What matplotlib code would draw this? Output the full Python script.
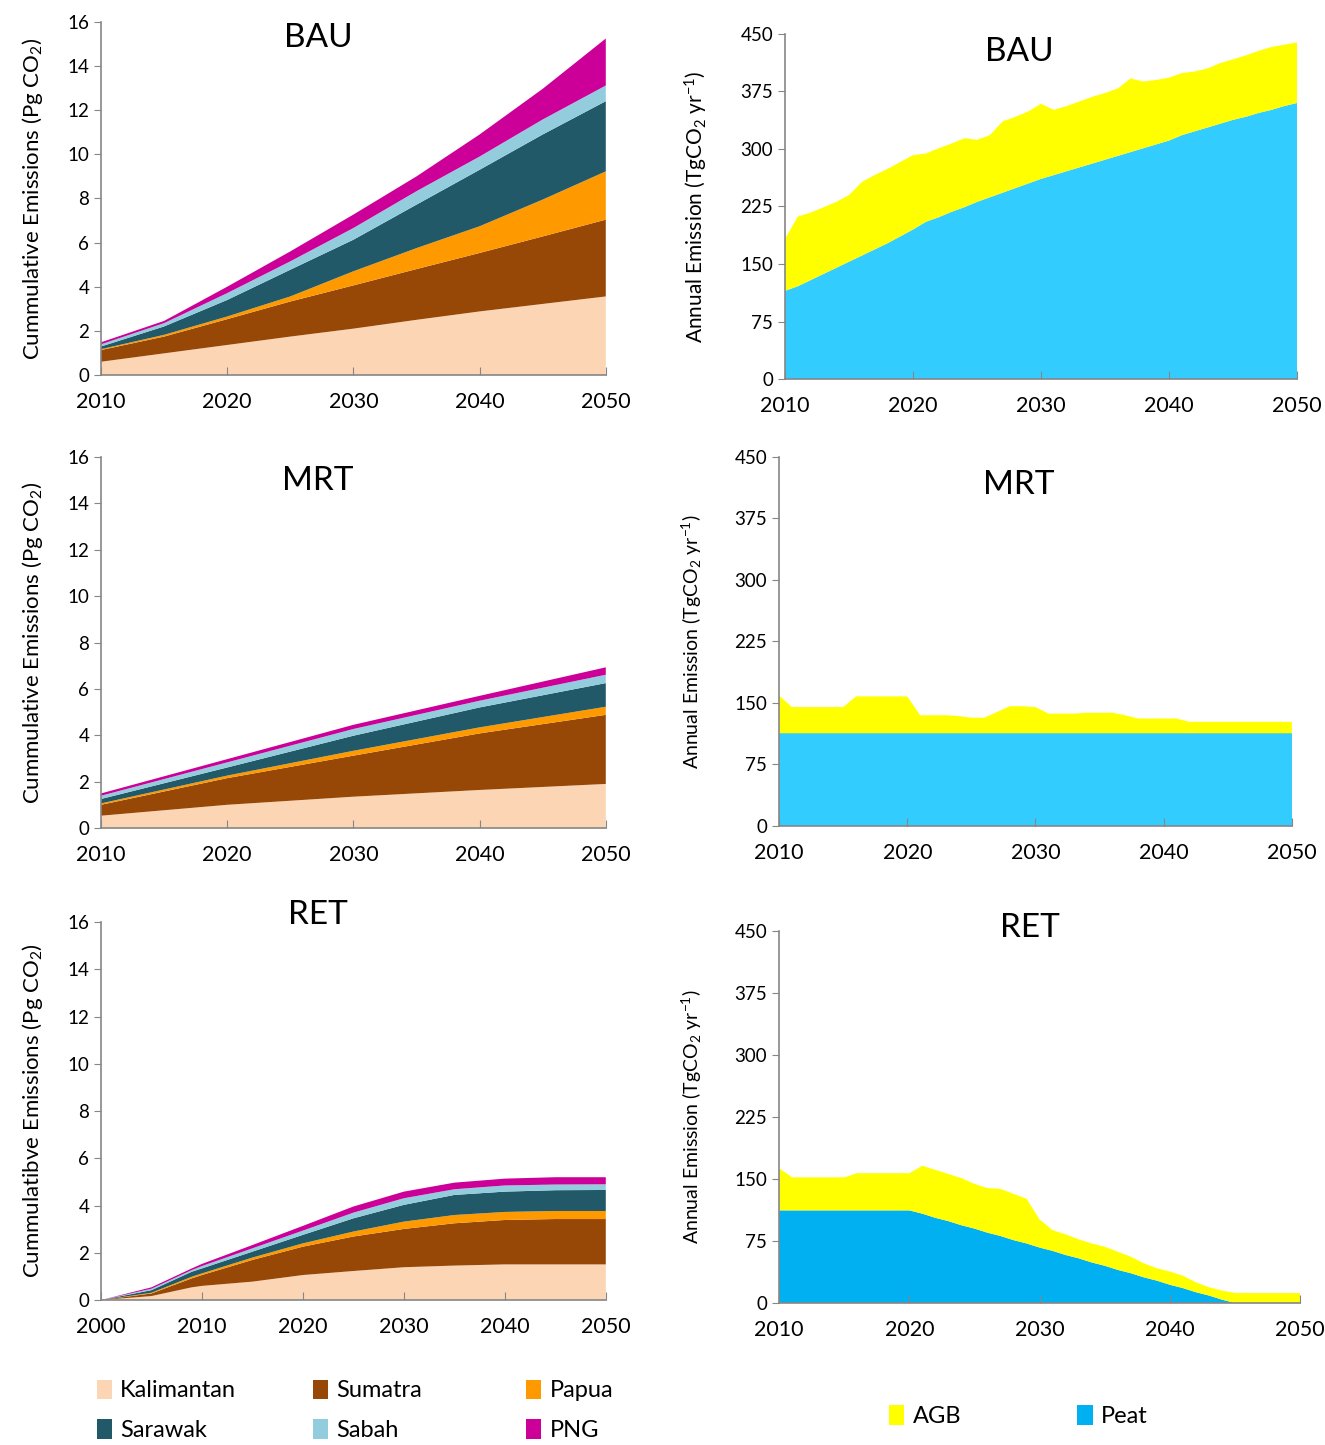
import numpy as np
import matplotlib
matplotlib.use("Agg")
import matplotlib.pyplot as plt
from matplotlib.patches import Patch

plt.rcParams['font.family'] = ['Lato', 'DejaVu Sans']
plt.rcParams['mathtext.fontset'] = 'custom'
plt.rcParams['mathtext.rm'] = 'Lato'
plt.rcParams['mathtext.it'] = 'Lato:italic'

regions = ["Kalimantan", "Sumatra", "Papua", "Sarawak", "Sabah", "PNG"]
region_colors = ["#FCD5B5", "#974806", "#FF9900", "#215968", "#93CDDD", "#CC0099"]

# cumulative emissions by region (Pg CO2), stacked
bau_years = [2010, 2015, 2020, 2025, 2030, 2035, 2040, 2045, 2050]
bau_kal = [0.60, 0.98, 1.36, 1.74, 2.10, 2.50, 2.88, 3.22, 3.56]
bau_sum = [0.53, 0.76, 1.17, 1.59, 1.96, 2.30, 2.65, 3.06, 3.48]
bau_pap = [0.04, 0.08, 0.12, 0.23, 0.64, 0.95, 1.21, 1.67, 2.19]
bau_sar = [0.12, 0.38, 0.75, 1.21, 1.43, 1.97, 2.56, 2.95, 3.18]
bau_sab = [0.10, 0.15, 0.31, 0.38, 0.53, 0.61, 0.60, 0.68, 0.71]
bau_png = [0.09, 0.10, 0.29, 0.45, 0.61, 0.67, 1.00, 1.39, 2.13]

mrt_years = [2010, 2020, 2030, 2040, 2050]
mrt_kal = [0.53, 1.00, 1.35, 1.64, 1.90]
mrt_sum = [0.47, 1.15, 1.77, 2.44, 2.98]
mrt_pap = [0.06, 0.11, 0.21, 0.26, 0.35]
mrt_sar = [0.19, 0.35, 0.65, 0.86, 1.02]
mrt_sab = [0.14, 0.22, 0.29, 0.29, 0.36]
mrt_png = [0.10, 0.14, 0.18, 0.21, 0.32]

ret_years = [2000, 2005, 2009, 2010, 2015, 2020, 2025, 2030, 2035, 2040, 2045, 2050]
ret_kal = [0, 0.17, 0.54, 0.60, 0.78, 1.06, 1.23, 1.39, 1.46, 1.51, 1.51, 1.51]
ret_sum = [0, 0.11, 0.38, 0.46, 0.92, 1.20, 1.46, 1.62, 1.79, 1.88, 1.92, 1.92]
ret_pap = [0, 0.03, 0.07, 0.07, 0.10, 0.14, 0.21, 0.31, 0.35, 0.34, 0.34, 0.34]
ret_sar = [0, 0.11, 0.21, 0.21, 0.25, 0.36, 0.56, 0.71, 0.85, 0.86, 0.88, 0.89]
ret_sab = [0, 0.06, 0.07, 0.10, 0.14, 0.18, 0.24, 0.28, 0.24, 0.26, 0.24, 0.24]
ret_png = [0, 0.06, 0.07, 0.09, 0.14, 0.20, 0.26, 0.28, 0.28, 0.29, 0.31, 0.30]

# annual emissions (TgCO2/yr), peat + AGB, yearly 2010-2050
ann_years = list(range(2010, 2051))
bau_peat = [115, 121, 129, 137, 145, 153, 161, 169, 177, 186, 195, 205, 211, 218, 224, 231,
            237, 243, 249, 255, 261, 266, 271, 276, 281, 286, 291, 296, 301, 306, 311, 318,
            323, 328, 333, 338, 342, 347, 351, 356, 360]
bau_agb = [68, 91, 88, 87, 86, 87, 96, 97, 97, 97, 97, 89, 90, 89, 90, 81, 81, 93, 93, 94,
           98, 85, 85, 86, 87, 87, 88, 96, 87, 84, 82, 81, 78, 77, 79, 79, 80, 81, 82, 80, 79]
mrt_peat = [113] * 41
mrt_agb = [46, 32, 32, 32, 32, 32, 45, 45, 45, 45, 45, 22, 22, 22, 21, 19, 19, 26, 33, 33,
           32, 24, 24, 24, 25, 25, 25, 22, 18, 18, 18, 18, 14, 14, 14, 14, 14, 14, 14, 14, 14]
ret_peat = [112] * 11 + [108, 103, 99, 94, 90, 85, 81, 76, 72, 67, 63, 58, 54, 49, 45, 40,
                         36, 31, 27, 22, 18, 13, 9, 4] + [0] * 6
ret_agb = [51, 40, 40, 40, 40, 40, 45, 45, 45, 45, 45, 58, 58, 57, 57, 54, 54, 57, 56, 54,
           34, 25, 25, 23, 23, 23, 22, 20, 17, 15, 16, 15, 12, 10, 11, 12, 12, 12, 12, 12, 12]

fig = plt.figure(figsize=(13.25, 14.45), dpi=100)
grey = "#868686"


def style(ax):
    for s in ["top", "right"]:
        ax.spines[s].set_visible(False)
    for s in ["left", "bottom"]:
        ax.spines[s].set_color(grey)
        ax.spines[s].set_linewidth(1.2)
    ax.tick_params(axis="x", direction="in", length=6, color=grey, labelsize=15.5, pad=12)
    ax.tick_params(axis="y", direction="out", length=5, color=grey, labelsize=13.5)


# left column: cumulative by region
left_axes = [
    (fig.add_axes([0.0762, 0.7405, 0.381, 0.2443]), bau_years,
     [bau_kal, bau_sum, bau_pap, bau_sar, bau_sab, bau_png], "BAU",
     "Cummulative Emissions (Pg CO$_2$)", 2010, 0.955),
    (fig.add_axes([0.0762, 0.4270, 0.381, 0.2567]), mrt_years,
     [mrt_kal, mrt_sum, mrt_pap, mrt_sar, mrt_sab, mrt_png], "MRT",
     "Cummulative Emissions (Pg CO$_2$)", 2010, 0.935),
    (fig.add_axes([0.0762, 0.1003, 0.381, 0.2616]), ret_years,
     [ret_kal, ret_sum, ret_pap, ret_sar, ret_sab, ret_png], "RET",
     "Cummulatibve Emissions (Pg CO$_2$)", 2000, 1.018),
]
for ax, yrs, series, title, ylab, x0, ty in left_axes:
    ax.stackplot(yrs, *series, colors=region_colors, linewidth=0)
    ax.set_xlim(x0, 2050)
    ax.set_ylim(0, 16)
    ax.set_xticks(range(x0, 2051, 10))
    ax.set_yticks(range(0, 17, 2))
    style(ax)
    ax.set_ylabel(ylab, fontsize=16, labelpad=16)
    ax.text(0.43, ty, title, transform=ax.transAxes, ha="center", va="center",
            fontsize=24, clip_on=False)

# right column: annual peat + AGB
right_axes = [
    (fig.add_axes([0.5925, 0.7377, 0.3864, 0.2388]), bau_peat, bau_agb, "BAU", "#33CCFF",
     0.457, 0.948, 15),
    (fig.add_axes([0.5880, 0.4284, 0.3870, 0.2554]), mrt_peat, mrt_agb, "MRT", "#33CCFF",
     0.468, 0.924, 14),
    (fig.add_axes([0.5880, 0.0983, 0.3932, 0.2574]), ret_peat, ret_agb, "RET", "#00B0F0",
     0.482, 1.008, 14),
]
for ax, peat, agb, title, pc, tx, ty, fs in right_axes:
    ax.stackplot(ann_years, peat, agb, colors=[pc, "#FFFF00"], linewidth=0)
    ax.set_xlim(2010, 2050)
    ax.set_ylim(0, 450)
    ax.set_xticks(range(2010, 2051, 10))
    ax.set_yticks(range(0, 451, 75))
    style(ax)
    ax.set_ylabel("Annual Emission (TgCO$_2$ yr$^{-1}$)", fontsize=fs, labelpad=22)
    ax.text(tx, ty, title, transform=ax.transAxes, ha="center", va="center",
            fontsize=24, clip_on=False)

# legends: one small legend per column, placed like the original
leg_kw = dict(frameon=False, fontsize=17, handlelength=0.65, handleheight=0.9,
              handletextpad=0.35, borderpad=0, borderaxespad=0, labelspacing=0.75)
for names, cols, x in [(["Kalimantan", "Sarawak"], [region_colors[0], region_colors[3]], 0.073),
                       (["Sumatra", "Sabah"], [region_colors[1], region_colors[4]], 0.236),
                       (["Papua", "PNG"], [region_colors[2], region_colors[5]], 0.397)]:
    fig.legend([Patch(facecolor=c, edgecolor="none") for c in cols], names,
               loc="center left", bbox_to_anchor=(x, 0.024), **leg_kw)
for name, col, x in [("AGB", "#FFFF00", 0.671), ("Peat", "#00B0F0", 0.813)]:
    fig.legend([Patch(facecolor=col, edgecolor="none")], [name],
               loc="center left", bbox_to_anchor=(x, 0.0201), **leg_kw)

fig.savefig("out.png", dpi=100)
